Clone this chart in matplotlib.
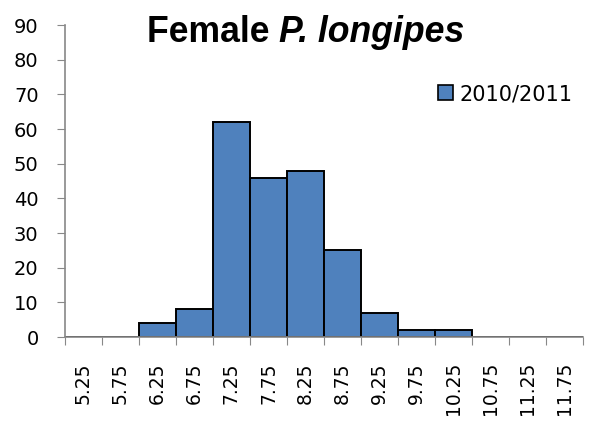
import numpy as np
import matplotlib.pyplot as plt
from matplotlib.patches import Patch

# size classes (carapace length, mm) and counts
classes = ['5.25', '5.75', '6.25', '6.75', '7.25', '7.75', '8.25',
           '8.75', '9.25', '9.75', '10.25', '10.75', '11.25', '11.75']
counts = [0, 0, 4, 8, 62, 46, 48, 25, 7, 2, 2, 0, 0, 0]
series_name = '2010/2011'

fig = plt.figure(figsize=(5.91, 4.23), dpi=100)
ax = fig.add_axes([65/591, 1 - 337/423, (583 - 65)/591, (337 - 25)/423])

x = np.arange(len(classes))
ax.bar(x, counts, width=1.0, color='#4f81bd', edgecolor='black',
       linewidth=1.4, align='center', zorder=2)

ax.set_xlim(-0.5, len(classes) - 0.5)
ax.set_ylim(0, 90)
ax.set_yticks(np.arange(0, 91, 10))

# ticks between categories, labels at the centres
ax.set_xticks(np.arange(-0.5, len(classes), 1.0))
ax.set_xticklabels([])
ax.set_xticks(x, minor=True)
ax.set_xticklabels(classes, minor=True, rotation=90, fontsize=13.5)
ax.tick_params(axis='x', which='major', length=6, color='#888888', direction='out')
ax.tick_params(axis='x', which='minor', length=0, pad=18)
ax.tick_params(axis='y', length=6, color='#888888', direction='out',
               labelsize=14, pad=13)

for s in ['top', 'right']:
    ax.spines[s].set_visible(False)
for s in ['left', 'bottom']:
    ax.spines[s].set_color('#888888')
    ax.spines[s].set_linewidth(1.2)

# title: "Female" bold, species name bold italic
tfont = ['Liberation Sans', 'DejaVu Sans']
t1 = fig.text(147/591, 1 - 42/423, 'Female ', fontsize=25.7, fontweight='bold',
              family=tfont, ha='left', va='baseline')
ax.annotate('P. longipes', xy=(1, 0), xycoords=t1, fontsize=25.7,
            fontweight='bold', fontstyle='italic', family=tfont,
            ha='left', va='bottom', annotation_clip=False)

leg = fig.legend(handles=[Patch(facecolor='#4f81bd', edgecolor='black', linewidth=1.2)],
                 labels=[series_name], loc='center left',
                 bbox_to_anchor=(438/591, 1 - 94/423), frameon=False,
                 fontsize=15, handlelength=0.7, handleheight=0.7,
                 handletextpad=0.35, borderpad=0, borderaxespad=0)

fig.savefig('out.png', dpi=100)
